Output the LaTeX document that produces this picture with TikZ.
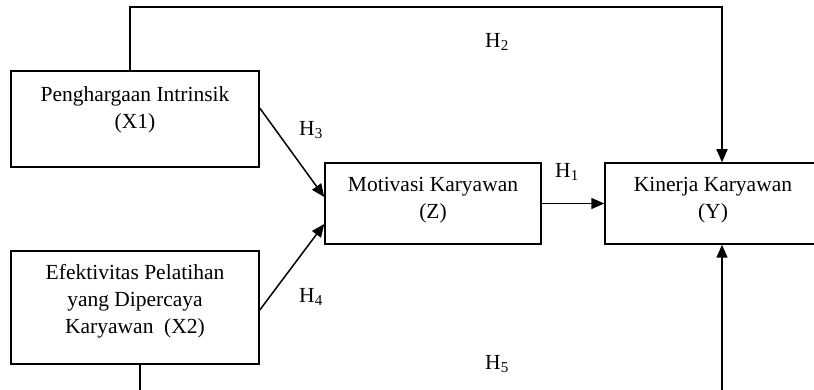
\documentclass[tikz,border=0pt]{standalone}
\usepackage{fontspec}
\setmainfont{Liberation Serif}
\usetikzlibrary{arrows.meta, positioning}
\tikzset{
    box/.style = {draw, rectangle, inner sep=0pt},
    txt/.style = {inner sep=0pt, align=center, font=\fontsize{21.5}{27}\selectfont},
    hyp/.style = {inner sep=0pt, font=\fontsize{21.5}{24}\selectfont},
    >={Triangle[length=13pt, width=11pt]}
}

\begin{document}
\begin{tikzpicture}[x=1pt, y=-1pt, line width=1.5pt]
        \useasboundingbox (0, 0) rectangle (814, 390);
        \node[box, minimum width=248pt, minimum height=96pt] (x1) at (135, 119) {};
        \node[box, minimum width=248pt, minimum height=113pt] (x2) at (135, 307.5) {};
        \node[box, minimum width=216pt, minimum height=81pt] (z) at (433, 203.5) {};
        \node[box, minimum width=216pt, minimum height=81pt] (y) at (713, 203.5) {};
        \node[txt, below=16pt of x1.north] (x1t) {Penghargaan Intrinsik\\(X1)};
        \node[txt, below=13pt of x2.north] (x2t) {Efektivitas Pelatihan\\yang Dipercaya\\Karyawan~~(X2)};
        \node[txt, below=14.5pt of z.north] (zt) {Motivasi Karyawan\\(Z)};
        \node[txt, below=14.5pt of y.north] (yt) {Kinerja Karyawan\\(Y)};
        \path[draw, ->] (z.east) -- (y.west);
        \path[draw, ->] ([yshift=11pt]x1.east) -- ([yshift=6.5pt]z.west);
        \path[draw, ->] ([yshift=-2.5pt]x2.east) -- ([yshift=-20.5pt]z.west);
        \path[draw, ->] ([xshift=-5pt]x1.north) -- ++(0, -63) -| ([xshift=9pt]y.north);
        \path[draw, ->] ([xshift=5pt]x2.south) -- ++(0, 40) -| ([xshift=9pt]y.south);
        \node[hyp] (h1) at (567, 172) {H\textsubscript{1}};
        \node[hyp] (h2) at (497, 42) {H\textsubscript{2}};
        \node[hyp] (h3) at (311, 130) {H\textsubscript{3}};
        \node[hyp] (h4) at (311, 297) {H\textsubscript{4}};
        \node[hyp] (h5) at (497, 364) {H\textsubscript{5}};
    \end{tikzpicture}
\end{document}
